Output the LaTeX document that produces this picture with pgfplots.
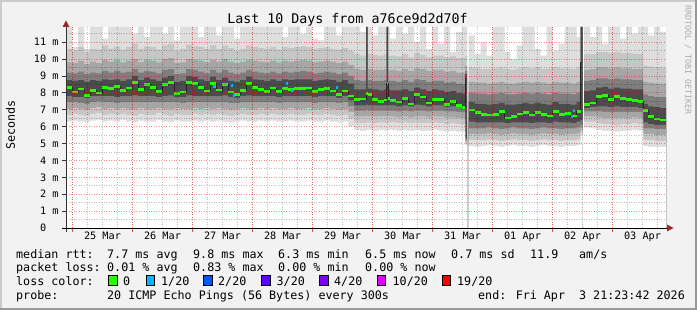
\documentclass[border=0pt]{standalone}
\usepackage{pgfplots}
\pgfplotsset{compat=1.18}
\usepackage{pgfplotstable}
\usepackage{fontspec}
\setmainfont{DejaVu Sans Mono}

\definecolor{bg}{HTML}{F2F2F2}
\definecolor{shadea}{HTML}{CBCBCB}
\definecolor{shadeb}{HTML}{999999}
\definecolor{arrowred}{HTML}{982A2A}
\definecolor{sA}{HTML}{DEDEDE}
\definecolor{sB}{HTML}{C6C6C6}
\definecolor{sC}{HTML}{A6A6A6}
\definecolor{sD}{HTML}{7E7E7E}
\definecolor{sE}{HTML}{4C4C4C}
\definecolor{loss0}{HTML}{26FF00}
\definecolor{loss1}{HTML}{00B8FF}
\definecolor{loss2}{HTML}{0059FF}
\definecolor{loss3}{HTML}{5E00FF}
\definecolor{loss4}{HTML}{7E00FF}
\definecolor{loss10}{HTML}{DD00FF}
\definecolor{loss19}{HTML}{FF0000}
\definecolor{wmark}{HTML}{AAAAAA}

% h = hours since 25 Mar 00:00; ping rtt quantile bands in ms
\pgfplotstableread{
h lo l1 l2 l3 l4 med h4 h3 h2 h1 hi
-2.6 6.30 6.70 7.05 7.45 7.80 8.30 8.75 9.20 9.80 10.60 11.90
-0.2 6.35 6.75 7.10 7.45 7.75 8.05 8.70 9.15 9.75 10.50 10.70
2.2 6.30 6.70 7.05 7.40 7.75 8.22 8.75 9.25 9.90 10.70 11.90
4.6 6.25 6.65 7.00 7.35 7.70 7.85 8.65 9.10 9.70 10.40 10.60
7.0 6.35 6.75 7.10 7.45 7.80 8.13 8.75 9.20 9.85 10.60 11.90
9.4 6.40 6.80 7.15 7.50 7.80 8.00 8.70 9.15 9.75 10.55 11.90
11.8 6.30 6.70 7.05 7.45 7.80 8.30 8.80 9.30 9.95 10.80 11.20
14.2 6.35 6.75 7.10 7.45 7.80 8.25 8.75 9.20 9.85 10.60 11.90
16.6 6.30 6.70 7.05 7.40 7.75 8.38 8.80 9.30 9.95 10.75 11.90
19.0 6.40 6.75 7.10 7.45 7.80 8.15 8.70 9.20 9.80 10.55 11.90
21.4 6.30 6.70 7.05 7.45 7.80 8.28 8.80 9.25 9.90 10.70 11.90
23.8 6.25 6.65 7.05 7.45 7.85 8.62 9.00 9.40 10.00 10.90 11.50
26.2 6.35 6.75 7.10 7.45 7.80 8.18 8.75 9.20 9.80 10.60 11.90
28.6 6.30 6.70 7.05 7.45 7.80 8.48 8.90 9.30 9.95 10.75 11.30
31.0 6.30 6.70 7.05 7.45 7.80 8.30 8.80 9.25 9.90 10.70 11.90
33.4 6.40 6.80 7.10 7.45 7.75 8.07 8.70 9.15 9.80 10.55 11.90
35.8 6.30 6.70 7.05 7.45 7.80 8.50 8.90 9.35 10.00 10.80 11.50
38.2 6.25 6.65 7.05 7.45 7.85 8.62 9.00 9.40 10.05 10.90 11.90
40.6 6.35 6.75 7.10 7.45 7.75 7.95 8.65 9.10 9.75 10.50 11.10
43.0 6.30 6.70 7.05 7.40 7.75 8.05 8.70 9.15 9.80 10.60 11.90
45.4 6.30 6.70 7.05 7.45 7.85 8.62 9.00 9.40 10.00 10.85 11.90
47.8 6.35 6.75 7.10 7.45 7.80 8.55 8.95 9.35 9.95 10.75 11.90
50.2 6.30 6.70 7.05 7.45 7.80 8.30 8.80 9.25 9.90 10.70 11.30
52.6 6.35 6.75 7.10 7.45 7.80 8.10 8.70 9.15 9.80 10.60 11.90
55.0 6.30 6.70 7.05 7.45 7.80 8.55 8.95 9.35 9.95 10.80 11.90
57.4 6.35 6.75 7.10 7.45 7.80 8.17 8.75 9.20 9.85 10.60 11.40
59.8 6.30 6.70 7.05 7.45 7.85 8.50 8.90 9.35 10.00 10.80 11.90
62.2 6.25 6.65 7.00 7.40 7.75 8.05 8.70 9.20 9.85 10.65 11.90
64.6 6.30 6.70 7.05 7.40 7.70 7.90 8.65 9.10 9.75 10.50 11.20
67.0 6.35 6.75 7.10 7.45 7.80 8.13 8.75 9.20 9.85 10.60 11.90
69.4 6.30 6.70 7.05 7.45 7.85 8.55 8.95 9.35 9.95 10.80 11.90
71.8 6.30 6.70 7.05 7.45 7.80 8.30 8.80 9.25 9.90 10.70 11.90
74.2 6.35 6.75 7.10 7.45 7.80 8.21 8.75 9.20 9.85 10.65 11.90
76.6 6.30 6.70 7.05 7.45 7.80 8.07 8.70 9.15 9.80 10.60 11.90
79.0 6.35 6.75 7.10 7.45 7.80 8.28 8.80 9.25 9.90 10.70 11.90
81.4 6.30 6.70 7.05 7.40 7.75 8.07 8.70 9.15 9.80 10.55 11.90
83.8 6.30 6.70 7.05 7.45 7.80 8.24 8.80 9.25 9.90 10.70 11.30
86.2 6.35 6.75 7.10 7.45 7.80 8.20 8.75 9.20 9.85 10.65 11.90
88.6 6.30 6.70 7.05 7.45 7.80 8.26 8.80 9.25 9.90 10.70 11.90
91.0 6.30 6.70 7.05 7.45 7.80 8.26 8.80 9.30 9.95 10.75 11.50
93.4 6.35 6.75 7.10 7.45 7.80 8.28 8.80 9.25 9.90 10.70 11.90
95.8 6.30 6.70 7.05 7.40 7.75 8.07 8.70 9.15 9.80 10.60 11.20
98.2 6.30 6.70 7.05 7.45 7.80 8.20 8.75 9.20 9.85 10.65 11.10
100.6 6.35 6.75 7.10 7.45 7.80 8.26 8.80 9.25 9.90 10.70 11.90
103.0 6.30 6.70 7.05 7.45 7.80 8.11 8.75 9.20 9.85 10.60 11.90
105.4 6.25 6.65 7.00 7.40 7.70 7.90 8.65 9.10 9.75 10.55 11.40
107.8 6.30 6.70 7.05 7.45 7.80 8.11 8.75 9.20 9.85 10.65 11.90
110.2 6.00 6.45 6.85 7.20 7.55 7.80 8.55 9.00 9.65 10.50 11.90
112.6 5.80 6.25 6.60 6.95 7.25 7.62 8.20 8.75 9.40 10.30 11.90
115.0 5.75 6.20 6.60 6.95 7.25 7.63 8.20 8.70 9.35 10.20 11.60
117.4 5.80 6.25 6.65 7.00 7.30 7.95 11.90 11.90 11.90 11.90 11.90
118.0 5.80 6.25 6.60 6.95 7.25 7.90 8.25 8.75 9.40 10.30 11.90
119.8 5.75 6.20 6.60 6.95 7.25 7.61 8.20 8.70 9.35 10.25 11.40
122.2 5.80 6.25 6.60 6.95 7.25 7.50 8.15 8.70 9.35 10.20 11.90
124.6 5.75 6.20 6.60 6.95 7.25 7.57 8.20 8.75 9.40 10.30 11.90
125.6 5.75 6.20 6.60 6.95 7.25 8.56 11.90 11.90 11.90 11.90 11.90
126.2 5.80 6.25 6.60 6.95 7.25 7.67 8.20 8.70 9.35 10.20 11.90
127.0 5.80 6.25 6.60 6.95 7.25 7.55 8.15 8.70 9.35 10.20 11.20
129.4 5.75 6.20 6.55 6.90 7.20 7.45 8.15 8.65 9.30 10.15 11.90
131.8 5.80 6.25 6.60 6.95 7.25 7.68 8.20 8.75 9.40 10.30 11.50
134.2 5.75 6.20 6.55 6.90 7.20 7.34 8.10 8.65 9.30 10.10 11.90
136.6 5.80 6.25 6.60 6.95 7.30 7.90 8.30 8.80 9.45 10.35 11.00
139.0 5.75 6.20 6.60 6.95 7.25 7.75 8.20 8.75 9.40 10.25 11.90
141.4 5.75 6.20 6.55 6.90 7.20 7.40 8.10 8.65 9.30 10.10 10.60
143.8 5.80 6.25 6.60 6.95 7.25 7.61 8.20 8.70 9.35 10.20 11.90
146.2 5.75 6.20 6.60 6.95 7.25 7.60 8.15 8.70 9.35 10.20 10.90
148.6 5.70 6.15 6.55 6.90 7.15 7.30 8.05 8.60 9.25 10.10 11.90
151.0 5.75 6.20 6.55 6.90 7.20 7.50 8.10 8.65 9.30 10.15 10.40
153.4 5.70 6.15 6.50 6.85 7.15 7.24 8.00 8.55 9.20 10.05 11.60
155.8 5.70 6.15 6.50 6.85 7.10 7.14 7.95 8.50 9.20 10.05 11.90
157.0 4.90 5.00 5.10 5.20 5.30 8.90 9.10 9.30 9.60 10.20 11.90
157.8 0 0 0 0 0 nan 0 0 0 0 0
158.4 4.85 5.20 5.55 5.90 6.30 6.98 7.45 8.00 8.65 9.50 11.40
160.8 4.80 5.20 5.55 5.90 6.25 6.82 7.35 7.95 8.60 9.45 10.30
163.2 4.85 5.20 5.55 5.90 6.25 6.72 7.35 7.95 8.60 9.40 11.00
165.6 4.90 5.25 5.60 5.95 6.25 6.69 7.30 7.90 8.55 9.40 10.20
168.0 4.85 5.20 5.55 5.90 6.25 6.72 7.35 7.95 8.60 9.45 11.90
170.4 4.80 5.15 5.50 5.85 6.25 6.88 7.40 8.00 8.65 9.50 11.90
172.8 4.85 5.20 5.55 5.90 6.20 6.52 7.30 7.90 8.55 9.40 10.40
175.2 4.90 5.25 5.60 5.95 6.25 6.60 7.30 7.90 8.55 9.35 10.00
177.6 4.85 5.20 5.55 5.90 6.25 6.75 7.35 7.95 8.60 9.45 10.80
180.0 4.85 5.20 5.55 5.90 6.25 6.82 7.40 8.00 8.65 9.50 11.90
182.4 4.80 5.15 5.50 5.85 6.20 6.69 7.35 7.95 8.60 9.45 11.90
184.8 4.85 5.20 5.55 5.90 6.25 6.85 7.40 8.00 8.65 9.50 10.60
187.2 4.90 5.25 5.60 5.95 6.25 6.73 7.35 7.95 8.60 9.40 10.20
189.6 4.85 5.20 5.55 5.90 6.20 6.62 7.30 7.90 8.55 9.45 11.90
192.0 4.85 5.20 5.55 5.90 6.30 6.90 7.45 8.00 8.65 9.50 10.50
194.4 4.80 5.15 5.50 5.85 6.25 6.72 7.35 7.95 8.60 9.45 10.90
196.8 4.85 5.20 5.55 5.90 6.25 6.76 7.35 7.95 8.60 9.45 11.90
199.2 4.85 5.20 5.55 5.90 6.20 6.62 7.30 7.90 8.55 9.40 11.90
201.6 4.90 5.25 5.60 5.95 6.30 6.90 7.45 8.00 8.65 9.50 11.30
203.2 5.50 5.70 5.90 6.10 6.40 9.84 11.90 11.90 11.90 11.90 11.90
204.0 0 0 0 0 0 nan 0 0 0 0 0
204.6 5.95 6.30 6.60 6.90 7.10 7.30 8.10 8.70 9.35 10.30 11.90
207.0 5.90 6.30 6.60 6.90 7.15 7.40 8.15 8.75 9.40 10.30 11.30
209.4 5.80 6.20 6.55 6.90 7.20 7.77 8.30 8.85 9.50 10.40 11.90
211.8 5.75 6.15 6.50 6.85 7.20 7.83 8.35 8.85 9.50 10.40 10.90
214.2 5.75 6.15 6.50 6.85 7.15 7.60 8.25 8.80 9.45 10.35 11.90
216.6 5.70 6.10 6.50 6.85 7.20 7.78 8.30 8.85 9.50 10.40 11.90
219.0 5.75 6.15 6.50 6.85 7.15 7.67 8.25 8.80 9.45 10.35 11.20
221.4 5.75 6.15 6.50 6.85 7.15 7.60 8.25 8.80 9.45 10.35 11.90
223.8 5.80 6.20 6.55 6.85 7.15 7.55 8.20 8.75 9.40 10.30 11.50
226.2 5.75 6.15 6.50 6.85 7.10 7.50 8.20 8.75 9.40 10.30 11.90
228.2 4.85 5.20 5.55 5.90 6.25 6.95 7.35 7.90 8.65 9.60 11.90
230.2 4.80 5.20 5.55 5.90 6.15 6.60 7.20 7.80 8.60 9.55 11.40
232.6 4.80 5.15 5.50 5.85 6.10 6.45 7.15 7.75 8.55 9.50 11.90
235.0 4.80 5.15 5.50 5.85 6.10 6.40 7.10 7.75 8.55 9.50 11.60
237.4 4.80 5.15 5.50 5.85 6.10 6.40 7.10 7.75 8.55 9.50 11.60
}\smoke

% medians with 1/20 loss
\pgfplotstableread{
h y
56.2 8.36
57.4 8.36
nan nan
63.4 8.44
64.2 8.44
nan nan
64.2 7.83
65.0 7.83
nan nan
85.4 8.56
86.2 8.56
nan nan
87.4 8.13
88.2 8.13
nan nan
105.4 8.30
106.2 8.30
nan nan
199.4 6.59
200.2 6.59
nan nan
200.2 6.94
201.0 6.94
}\lossone

\begin{document}
\begin{tikzpicture}[x=1pt,y=1pt]
\useasboundingbox (0,0) rectangle (697,310);
\fill[bg] (0,0) rectangle (697,310);
\fill[shadea] (0,308) rectangle (697,310);
\fill[shadea] (0,0) rectangle (2,310);
\fill[shadeb] (0,0) rectangle (697,2);
\fill[shadeb] (695,0) rectangle (697,310);

\begin{axis}[
  at={(66pt,82pt)}, anchor=south west,
  scale only axis, width=600pt, height=201.1pt,
  xmin=-2.6, xmax=237.4, ymin=0, ymax=11.9,
  axis background/.style={fill=white},
  axis lines*=left, axis line style={draw=none},
  unbounded coords=jump,
  axis on top,
  tick align=outside, major tick length=4pt, minor tick length=0pt,
  xtick={0,24,...,216}, xticklabels={,,,,,,,,,},
  xtick style={draw={rgb,255:red,220;green,80;blue,80}, line width=0.8pt},
  minor xtick={0,6,...,234},
  extra x ticks={12,36,...,228},
  extra x tick labels={25 Mar,26 Mar,27 Mar,28 Mar,29 Mar,30 Mar,31 Mar,01 Apr,02 Apr,03 Apr},
  extra x tick style={grid=none, major tick length=0pt},
  xticklabel style={font=\fontsize{10.2}{12}\selectfont, text=black},
  ytick={0,...,11},
  yticklabels={0\hphantom{\ m},1 m,2 m,3 m,4 m,5 m,6 m,7 m,8 m,9 m,10 m,11 m},
  ytick style={draw=black!80, line width=0.8pt},
  yticklabel style={font=\fontsize{10.2}{12}\selectfont, text=black},
  minor ytick={0.5,1.5,...,11.5},
  xmajorgrids, ymajorgrids, xminorgrids, yminorgrids,
  major grid style={draw=red, opacity=0.45, line width=0.8pt, dash pattern=on 1pt off 1.5pt},
  minor grid style={draw=black, opacity=0.25, line width=0.8pt, dash pattern=on 1pt off 1.5pt},
]
\addplot[const plot, fill=sA, draw=none] table[x=h,y=hi]{\smoke} \closedcycle;
\addplot[const plot, fill=sB, draw=none] table[x=h,y=h1]{\smoke} \closedcycle;
\addplot[const plot, fill=sC, draw=none] table[x=h,y=h2]{\smoke} \closedcycle;
\addplot[const plot, fill=sD, draw=none] table[x=h,y=h3]{\smoke} \closedcycle;
\addplot[const plot, fill=sE, draw=none] table[x=h,y=h4]{\smoke} \closedcycle;
\addplot[const plot, fill=sD, draw=none] table[x=h,y=l4]{\smoke} \closedcycle;
\addplot[const plot, fill=sC, draw=none] table[x=h,y=l3]{\smoke} \closedcycle;
\addplot[const plot, fill=sB, draw=none] table[x=h,y=l2]{\smoke} \closedcycle;
\addplot[const plot, fill=sA, draw=none] table[x=h,y=l1]{\smoke} \closedcycle;
\addplot[const plot, fill=white, draw=none] table[x=h,y=lo]{\smoke} \closedcycle;
\addplot[const plot, draw=black!85, line width=0.6pt] table[x=h,y=med]{\smoke};
\addplot[jump mark left, draw=loss0, line width=2.6pt] table[x=h,y=med]{\smoke};
\addplot[draw=loss1, line width=2.6pt] table[x=h,y=y]{\lossone};
\end{axis}

% axes with arrows
\draw[black!80, line width=0.8pt] (66,78) -- (66,284);
\fill[arrowred] (62.5,283) -- (66,289.5) -- (69.5,283) -- cycle;
\draw[black, line width=0.8pt] (62,82) -- (667,82);
\fill[arrowred] (667,78.5) -- (673.5,82) -- (667,85.5) -- cycle;

% title, unit, watermark
\node[anchor=base, font=\fontsize{13.3}{16}\selectfont] at (347.5,286) {Last 10 Days from a76ce9d2d70f};
\node[rotate=90, font=\fontsize{11.7}{14}\selectfont] at (10.5,185) {Seconds};
\node[rotate=-90, font=\fontsize{8.3}{10}\selectfont, text=wmark] at (688,250) {RRDTOOL / TOBI OETIKER};

% legend
\begin{scope}[every node/.style={anchor=base west, inner sep=0pt, font=\fontsize{11.7}{14}\selectfont}]
\node at (16,51.7) {median rtt:};
\node at (107,51.7) {7.7 ms avg};
\node at (193,51.7) {9.8 ms max};
\node at (278,51.7) {6.3 ms min};
\node at (365,51.7) {6.5 ms now};
\node at (451,51.7) {0.7 ms sd};
\node at (530,51.7) {11.9};
\node at (579,51.7) {am/s};

\node at (16,38.1) {packet loss:};
\node at (107,38.1) {0.01 \% avg};
\node at (193,38.1) {0.83 \% max};
\node at (278,38.1) {0.00 \% min};
\node at (365,38.1) {0.00 \% now};

\node at (16,24) {loss color:};
\filldraw[fill=loss0, draw=black, line width=0.8pt] (108.5,24.5) rectangle (117,35);
\node at (123,24) {0};
\filldraw[fill=loss1, draw=black, line width=0.8pt] (146,24.5) rectangle (154.5,35);
\node at (161,24) {1/20};
\filldraw[fill=loss2, draw=black, line width=0.8pt] (203.5,24.5) rectangle (212,35);
\node at (218,24) {2/20};
\filldraw[fill=loss3, draw=black, line width=0.8pt] (261.5,24.5) rectangle (270,35);
\node at (276.5,24) {3/20};
\filldraw[fill=loss4, draw=black, line width=0.8pt] (319.5,24.5) rectangle (328,35);
\node at (334,24) {4/20};
\filldraw[fill=loss10, draw=black, line width=0.8pt] (377,24.5) rectangle (385.5,35);
\node at (392.5,24) {10/20};
\filldraw[fill=loss19, draw=black, line width=0.8pt] (442,24.5) rectangle (450.5,35);
\node at (457,24) {19/20};

\node at (16,10.3) {probe:};
\node at (107,10.3) {20 ICMP Echo Pings (56 Bytes) every 300s};
\node at (478,10.3) {end: Fri Apr\ \ 3 21:23:42 2026};
\end{scope}
\end{tikzpicture}
\end{document}
